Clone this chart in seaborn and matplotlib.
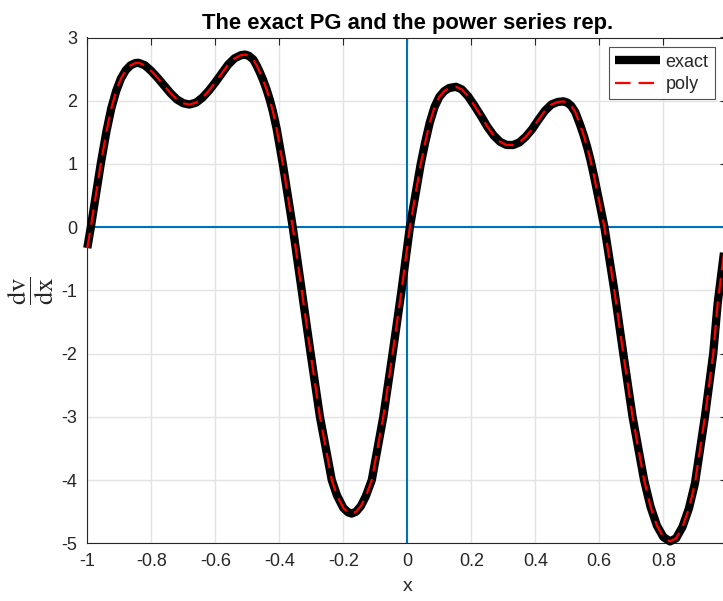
import matplotlib
matplotlib.use("Agg")
import matplotlib.pyplot as plt
import seaborn as sns
import pandas as pd

# ---- data ----
x_vals = [-1.000, -0.989, -0.975, -0.958, -0.940, -0.925, -0.910, -0.895, -0.880, -0.865,
          -0.850, -0.840, -0.820, -0.800, -0.780, -0.760, -0.740, -0.720, -0.700, -0.681,
          -0.660, -0.640, -0.620, -0.600, -0.580, -0.560, -0.540, -0.520, -0.507, -0.495,
          -0.481, -0.470, -0.460, -0.450, -0.440, -0.430, -0.420, -0.408, -0.389, -0.358,
          -0.330, -0.302, -0.273, -0.236, -0.220, -0.200, -0.185, -0.174, -0.160, -0.145,
          -0.130, -0.111, -0.075, -0.046, -0.018, 0.008, 0.042, 0.055, 0.070, 0.085,
          0.100, 0.115, 0.130, 0.152, 0.170, 0.190, 0.210, 0.230, 0.250, 0.270,
          0.290, 0.310, 0.331, 0.350, 0.370, 0.390, 0.410, 0.430, 0.450, 0.470,
          0.488, 0.500, 0.512, 0.525, 0.540, 0.552, 0.563, 0.573, 0.583, 0.600,
          0.616, 0.647, 0.675, 0.704, 0.740, 0.760, 0.780, 0.800, 0.821, 0.840,
          0.860, 0.880, 0.899, 0.930, 0.956, 0.970, 0.986, 1.000]
y_exact = [-0.33, 0.00, 0.45, 1.00, 1.52, 1.88, 2.15, 2.35, 2.48, 2.56,
           2.595, 2.60, 2.56, 2.47, 2.36, 2.24, 2.12, 2.02, 1.96, 1.94,
           1.97, 2.05, 2.16, 2.29, 2.43, 2.57, 2.67, 2.72, 2.73, 2.71,
           2.65, 2.55, 2.44, 2.32, 2.18, 2.02, 1.83, 1.55, 1.00, 0.00,
           -1.00, -2.00, -3.00, -4.00, -4.24, -4.44, -4.51, -4.53, -4.50, -4.41,
           -4.26, -4.00, -3.00, -2.00, -1.00, 0.00, 1.00, 1.32, 1.65, 1.90,
           2.06, 2.15, 2.20, 2.22, 2.18, 2.07, 1.92, 1.76, 1.59, 1.45,
           1.35, 1.30, 1.30, 1.34, 1.43, 1.55, 1.70, 1.84, 1.94, 1.98,
           1.99, 1.97, 1.92, 1.82, 1.62, 1.44, 1.25, 1.05, 0.82, 0.40,
           0.00, -1.00, -2.00, -3.00, -4.00, -4.42, -4.72, -4.90, -4.97, -4.92,
           -4.74, -4.45, -4.05, -3.00, -2.00, -1.20, -0.55, 0.00]
y_poly = list(y_exact)

x_ticks = [-1, -0.8, -0.6, -0.4, -0.2, 0, 0.2, 0.4, 0.6, 0.8]
x_tick_labels = ["-1", "-0.8", "-0.6", "-0.4", "-0.2", "0", "0.2", "0.4", "0.6", "0.8"]
y_ticks = [-5, -4, -3, -2, -1, 0, 1, 2, 3]
y_tick_labels = ["-5", "-4", "-3", "-2", "-1", "0", "1", "2", "3"]

sns.set_theme(style="white")
plt.rcParams["font.family"] = ["Liberation Sans", "DejaVu Sans"]
plt.rcParams["mathtext.fontset"] = "stix"

fig = plt.figure(figsize=(7.23, 6.01), dpi=100)
ax = fig.add_axes([87.3 / 723, (601 - 543.3) / 601, 640 / 723, 505.8 / 601])

df = pd.DataFrame({"x": x_vals, "exact": y_exact, "poly": y_poly})

blue = "#0072BD"
ax.axhline(0, color=blue, lw=1.5, zorder=2)
ax.axvline(0, color=blue, lw=1.5, zorder=2)

sns.lineplot(data=df, x="x", y="exact", ax=ax, color="black", lw=6,
             label="exact", sort=False, zorder=3, solid_capstyle="butt",
             solid_joinstyle="round")
sns.lineplot(data=df, x="x", y="poly", ax=ax, color="#FF0000", lw=1.6,
             label="poly", sort=False, zorder=4, dashes=False)
dash = (7, 3.6)
ax.lines[-1].set_dashes(dash)
for ln in ax.lines[2:]:
    ln.set_clip_on(False)

ax.set_xlim(-1, 1)
ax.set_ylim(-5, 3)
ax.set_xticks(x_ticks)
ax.set_xticklabels(x_tick_labels)
ax.set_yticks(y_ticks)
ax.set_yticklabels(y_tick_labels)

ax.grid(True, color="#e3e3e3", lw=1.0, zorder=0)
ax.set_axisbelow(True)
for s in ax.spines.values():
    s.set_color("#262626")
    s.set_linewidth(0.8)
ax.tick_params(direction="in", length=5, width=0.8, colors="#262626",
               labelsize=13, top=True, right=True, pad=7)

ax.set_title("The exact PG and the power series rep.", fontsize=15.8,
             fontweight="bold", color="black", pad=6)
ax.set_xlabel("x", fontsize=14, color="#262626", labelpad=6)
ax.set_ylabel(r"$\dfrac{\mathrm{dv}}{\mathrm{dx}}$", fontsize=19,
              color="#262626", rotation=90, labelpad=4)

leg = ax.legend(loc="upper right", bbox_to_anchor=((715 - 87.3) / 640, (543.3 - 47.3) / 505.8),
                fontsize=13, frameon=True, fancybox=False, handlelength=2.5,
                handletextpad=0.3, borderpad=0.35, labelspacing=0.3,
                borderaxespad=0)
leg.get_frame().set_edgecolor("#262626")
leg.get_frame().set_linewidth(0.8)
leg.get_lines()[1].set_dashes(dash)

fig.savefig("out.png", dpi=100)
